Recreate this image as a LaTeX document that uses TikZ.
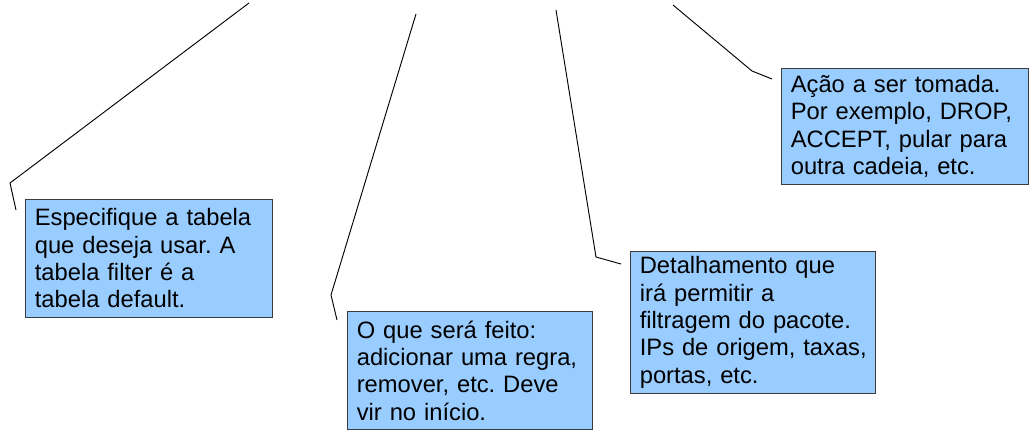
\documentclass[tikz,border=0pt]{standalone}
\usepackage{fontspec}
\setmainfont{Liberation Sans}
\usetikzlibrary{positioning}

\definecolor{noteblue}{HTML}{99CCFF}
\definecolor{noteline}{HTML}{3C3C3C}

\begin{document}
\frenchspacing
\begin{tikzpicture}[x=0.75pt, y=-0.75pt,
    note/.style={draw=noteline, fill=noteblue, line width=0.75pt, anchor=north west,
        align=left, inner xsep=7pt, text width=171pt, minimum height=88.5pt,
        font=\fontsize{17.8}{20.5}\selectfont},
    lead/.style={draw=black, line width=0.7pt}]
    % Fix the page to the reference size (pixels)
    \useasboundingbox (0,0) rectangle (1032,433);

    % Note boxes
    \node[note] (tabela) at (25,199) {Especifique a tabela\\que deseja usar. A\\tabela filter é a\\tabela default.};
    \node[note, text width=170pt] (comando) at (347,311) {O que será feito:\\adicionar uma regra,\\remover, etc. Deve\\vir no início.};
    \node[note, text width=170pt, minimum height=106.5pt] (regra) at (630,251) {Detalhamento que\\irá permitir a\\filtragem do pacote.\\\mbox{IPs de origem, taxas,}\\portas, etc.};
    \node[note, minimum height=87pt] (alvo) at (781,68) {Ação a ser tomada.\\Por exemplo, DROP,\\ACCEPT, pular para\\outra cadeia, etc.};

    % Free ends and bends of the leader lines
    \coordinate (topo1) at (249,3);   \coordinate (dobra1) at (10,183);
    \coordinate (topo2) at (416,14);  \coordinate (dobra2) at (331,295);
    \coordinate (topo3) at (556,10);  \coordinate (dobra3) at (596,257);
    \coordinate (topo4) at (673,5);   \coordinate (dobra4) at (752,71);

    % Leader lines
    \draw[lead] (topo1) -- (dobra1) -- ([shift={(-9,11)}]tabela.north west);
    \draw[lead] (topo2) -- (dobra2) -- ([shift={(-10,9)}]comando.north west);
    \draw[lead] (topo3) -- (dobra3) -- ([shift={(-9,13)}]regra.north west);
    \draw[lead] (topo4) -- (dobra4) -- ([shift={(-9,11)}]alvo.north west);
\end{tikzpicture}
\end{document}
